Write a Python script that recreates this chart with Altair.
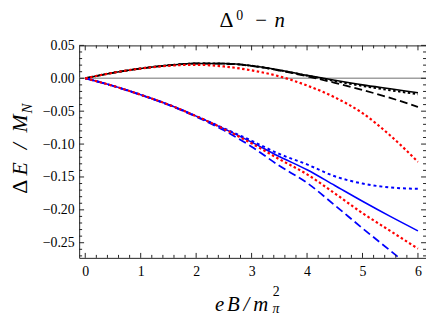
import altair as alt
import pandas as pd
import numpy as np

# ---------------- data ----------------
x_vals = [0, 0.5, 1, 1.5, 2, 2.5, 3, 3.5, 4, 4.5, 5, 5.5, 6]

black_solid = [0, 0.0084, 0.0150, 0.0197, 0.0225, 0.0224, 0.0192, 0.0127, 0.0045, -0.0030, -0.0100, -0.0160, -0.0220]
black_dash  = [0, 0.0084, 0.0150, 0.0197, 0.0225, 0.0222, 0.0188, 0.0118, 0.0030, -0.0068, -0.0178, -0.0298, -0.0435]
black_dot   = [0, 0.0084, 0.0150, 0.0197, 0.0225, 0.0223, 0.0190, 0.0122, 0.0040, -0.0042, -0.0117, -0.0182, -0.0242]
red_upper   = [0, 0.0084, 0.0148, 0.0190, 0.0205, 0.0180, 0.0120, 0.0030, -0.0110, -0.0290, -0.0530, -0.0870, -0.1270]

blue_solid  = [0, -0.0115, -0.0250, -0.0400, -0.0575, -0.0765, -0.0970, -0.1190, -0.1390, -0.1630, -0.1870, -0.2100, -0.2320]
blue_dot    = [0, -0.0115, -0.0250, -0.0400, -0.0575, -0.0760, -0.0950, -0.1150, -0.1310, -0.1490, -0.1600, -0.1660, -0.1680]
red_lower   = [0, -0.0115, -0.0250, -0.0400, -0.0575, -0.0770, -0.0990, -0.1230, -0.1460, -0.1750, -0.2050, -0.2320, -0.2590]
blue_dash   = [0, -0.0116, -0.0253, -0.0405, -0.0585, -0.0790, -0.1040, -0.1330, -0.1590, -0.1930, -0.2280, -0.2620, -0.2960]

y_major = [-0.25, -0.20, -0.15, -0.10, -0.05, 0.00, 0.05]
x_major = [0, 1, 2, 3, 4, 5, 6]

# ---------------- layout ----------------
W, H = 351, 215
FRAME = "#222222"
xs = alt.Scale(domain=[-0.11, 6.145], nice=False, zero=False)
ys = alt.Scale(domain=[-0.273, 0.05], nice=False, zero=False)

series = [
    ("black_solid", black_solid, "#000000", None, 1.6),
    ("black_dash", black_dash, "#000000", [8, 4], 1.8),
    ("black_dot", black_dot, "#000000", [2.5, 2.5], 2.0),
    ("blue_solid", blue_solid, "#0000ff", None, 1.6),
    ("blue_dot", blue_dot, "#0000ff", [3, 3], 2.0),
    ("blue_dash", blue_dash, "#0000ff", [8, 4], 1.8),
    ("red_upper", red_upper, "#ff0000", [2.5, 2.5], 2.2),
    ("red_lower", red_lower, "#ff0000", [2.5, 2.5], 2.2),
]

rows = []
for name, vals, _, _, _ in series:
    for xv, yv in zip(x_vals, vals):
        rows.append({"s": name, "x": xv, "y": yv})
df = pd.DataFrame(rows)

serif = "Liberation Serif"

x_axis = alt.Axis(values=x_major, format="d", ticks=False, tickSize=0, domain=False, grid=False,
                  labelFont=serif, labelFontSize=14, labelColor="#000", labelPadding=7, title=None)
y_axis = alt.Axis(values=y_major, format=".2f", ticks=False, tickSize=0, domain=False, grid=False,
                  labelFont=serif, labelFontSize=14, labelColor="#000", labelPadding=5, title=None)

def X(f):
    return alt.X(f, scale=xs, axis=x_axis)

def Y(f):
    return alt.Y(f, scale=ys, axis=y_axis)

layers = []

# zero line
layers.append(
    alt.Chart(pd.DataFrame({"y": [0.0]})).mark_rule(color="#a0a0a0", strokeWidth=1.5)
    .encode(y=Y("y:Q"))
)

for name, vals, col, dash, sw in series:
    kw = dict(color=col, strokeWidth=sw, clip=True, interpolate="monotone")
    if dash:
        kw["strokeDash"] = dash
    layers.append(
        alt.Chart(df).transform_filter(alt.datum.s == name).mark_line(**kw)
        .encode(x=X("x:Q"), y=Y("y:Q"))
    )

# inward ticks (Mathematica-style frame)
y_minor = [v for v in np.round(np.arange(-27, 5) * 0.01, 2) if round(v * 100) % 5 != 0]
x_minor = [v for v in np.round(np.arange(0, 31) * 0.2, 1) if abs(v - round(v)) > 1e-6]

def yticks(vals, L):
    d = pd.DataFrame({"y": vals})
    left = alt.Chart(d).mark_rule(color=FRAME, strokeWidth=1).encode(
        y=Y("y:Q"), x=alt.value(0), x2=alt.value(L))
    right = alt.Chart(d).mark_rule(color=FRAME, strokeWidth=1).encode(
        y=Y("y:Q"), x=alt.value(W), x2=alt.value(W - L))
    return [left, right]

def xticks(vals, L):
    d = pd.DataFrame({"x": vals})
    bot = alt.Chart(d).mark_rule(color=FRAME, strokeWidth=1).encode(
        x=X("x:Q"), y=alt.value(H), y2=alt.value(H - L))
    top = alt.Chart(d).mark_rule(color=FRAME, strokeWidth=1).encode(
        x=X("x:Q"), y=alt.value(0), y2=alt.value(L))
    return [bot, top]

layers += yticks(y_major, 5) + yticks(y_minor, 3) + xticks(x_major, 5) + xticks(x_minor, 3)

# text pieces (titles)
one = pd.DataFrame({"a": [0]})

def txt(s, x, y, size, italic=False, angle=0):
    kw = dict(text=s, font=serif, fontSize=size, align="center", baseline="alphabetic", color="#000")
    if italic:
        kw["fontStyle"] = "italic"
    if angle:
        kw["angle"] = angle
    return alt.Chart(one).mark_text(**kw).encode(x=alt.value(x), y=alt.value(y))

# title  Δ^0 − n
layers += [
    txt("Δ", 149, -18.5, 22),
    txt("0", 162.5, -26, 14),
    txt("−", 184, -18.5, 21),
    txt("n", 203, -18.5, 21, italic=True),
]
# x title  eB/m_π^2
layers += [
    txt("e", 142.2, 268.3, 21, italic=True),
    txt("B", 156, 268.3, 21, italic=True),
    txt("/", 169.2, 268.3, 21, italic=True),
    txt("m", 183.8, 268.3, 21, italic=True),
    txt("2", 199.5, 254, 14),
    txt("π", 199.2, 271, 14, italic=True),
]
# y title  ΔE / M_N (rotated)
layers += [
    txt("Δ", -53, 143, 22, angle=270),
    txt("E", -53, 125, 22, italic=True, angle=270),
    txt("/", -53, 102, 22, italic=True, angle=270),
    txt("M", -53, 79, 22, italic=True, angle=270),
    txt("N", -48, 64, 15, italic=True, angle=270),
]

chart = alt.layer(*layers).properties(
    width=W, height=H,
    autosize=alt.AutoSizeParams(type="none"),
    padding={"left": 72, "top": 36, "right": 0, "bottom": 58},
).configure_view(stroke=FRAME, strokeWidth=1)

chart.save("out.html", embed_options={"renderer": "svg", "actions": False})
